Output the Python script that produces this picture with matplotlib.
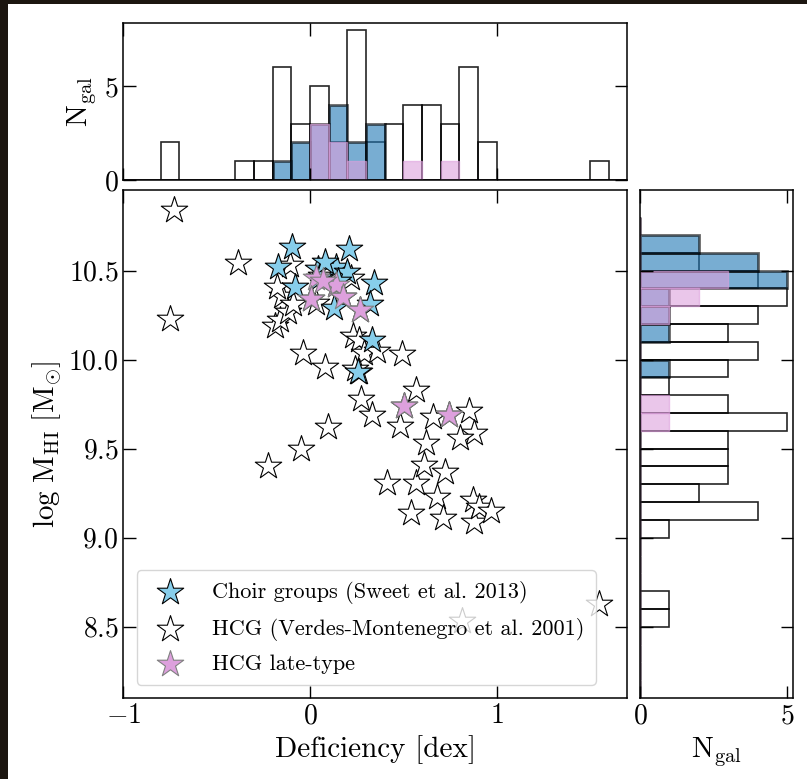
import numpy as np
import matplotlib.pyplot as plt
from matplotlib.patches import Rectangle

plt.rcParams['font.family'] = 'serif'
plt.rcParams['font.serif'] = ['cmr10']
plt.rcParams['mathtext.fontset'] = 'cm'
plt.rcParams['axes.formatter.use_mathtext'] = True

# HI deficiency [dex] and log HI mass for each galaxy sample
hcg_def = [-0.73, -0.75, -0.385,
           -0.19, -0.16, -0.12, -0.15, -0.18, -0.11,
           -0.09, -0.04,
           0.03, 0.06, 0.005,
           0.14, 0.175,
           0.23, 0.26, 0.265, 0.29, 0.22,
           0.36, 0.49,
           -0.225, -0.05, 0.08, 0.095, 0.26, 0.24, 0.27, 0.33,
           0.48, 0.41, 0.567, 0.505, 0.567, 0.54,
           0.66, 0.62, 0.61, 0.68, 0.745, 0.72, 0.71,
           0.85, 0.88, 0.805, 0.875, 0.88, 0.815,
           0.905, 0.97, 1.545]
hcg_mhi = [10.84, 10.23, 10.54,
           10.19, 10.22, 10.27, 10.36, 10.41, 10.53,
           10.31, 10.04,
           10.32, 10.47, 10.34,
           10.42, 10.35,
           10.13, 10.11, 10.28, 10.04, 10.46,
           10.05, 10.03,
           9.40, 9.496, 9.96, 9.62, 9.93, 9.95, 9.78, 9.69,
           9.63, 9.31, 9.83, 9.74, 9.31, 9.14,
           9.68, 9.534, 9.41, 9.23, 9.69, 9.37, 9.11,
           9.71, 9.59, 9.56, 9.21, 9.09, 8.53,
           9.17, 9.15, 8.63]

choir_def = [-0.095, 0.21, -0.17, 0.04, 0.14, 0.195, -0.08, 0.34,
             0.13, 0.32, 0.33, 0.255, 0.05, 0.08, 0.15]
choir_mhi = [10.63, 10.62, 10.52, 10.51, 10.52, 10.49, 10.41, 10.43,
             10.29, 10.31, 10.11, 9.93, 10.46, 10.55, 10.44]

late_def = [0.033, 0.14, 0.175, 0.005, 0.265, 0.505, 0.745, 0.07]
late_mhi = [10.46, 10.42, 10.35, 10.34, 10.28, 9.74, 9.69, 10.44]

def_bins = np.linspace(-1.0, 1.7, 28)
mhi_bins = np.linspace(8.0, 10.8, 29)

fig = plt.figure(figsize=(8.07, 7.79), dpi=100)
fig.patch.set_facecolor('#1c1610')
fig.add_artist(Rectangle((8 / 807, 0), 1, 1 - 4 / 779, transform=fig.transFigure,
                         facecolor='white', edgecolor='none', zorder=-10))

ax = fig.add_axes([0.153, 0.104, 0.6245, 0.6515])
ax_top = fig.add_axes([0.153, 0.769, 0.6245, 0.2009], sharex=ax)
ax_right = fig.add_axes([0.793, 0.104, 0.1896, 0.6515], sharey=ax)

# scatter
ax.scatter(hcg_def, hcg_mhi, marker='*', s=400, facecolor='white',
           edgecolor='k', lw=0.8, label='HCG (Verdes-Montenegro et al. 2001)', zorder=2)
ax.scatter(choir_def, choir_mhi, marker='*', s=400, facecolor='skyblue',
           edgecolor='k', lw=0.8, label='Choir groups (Sweet et al. 2013)', zorder=3)
ax.scatter(late_def, late_mhi, marker='*', s=400, facecolor='plum',
           edgecolor='gray', lw=0.8, label='HCG late-type', zorder=4)

handles, labels = ax.get_legend_handles_labels()
order = [1, 0, 2]
ax.legend([handles[i] for i in order], [labels[i] for i in order],
          loc='lower left', fontsize=16, handletextpad=0.9, labelspacing=0.6,
          borderpad=0.5, borderaxespad=0.6)

ax.set_xlim(-1, 1.7)
ax.set_ylim(8.1, 10.95)
ax.set_xticks([-1, 0, 1])
ax.set_yticks([8.5, 9.0, 9.5, 10.0, 10.5])
ax.set_xlabel('Deficiency [dex]', fontsize=21)
ax.set_ylabel(r'$\log\,\mathrm{M_{HI}}\ [\mathrm{M_{\odot}}]$', fontsize=21)

# deficiency histograms
ax_top.hist(hcg_def, bins=def_bins, facecolor='none', edgecolor='k', lw=1.2, alpha=0.85)
ax_top.hist(choir_def, bins=def_bins, color='C0', alpha=0.6, edgecolor='k', lw=2)
ax_top.hist(late_def, bins=def_bins, color='plum', alpha=0.6, edgecolor='plum', lw=1)
ax_top.set_ylim(0, 8.35)
ax_top.set_yticks([0, 5])
ax_top.set_ylabel(r'$\mathrm{N_{gal}}$', fontsize=21)

# HI mass histograms
ax_right.hist(hcg_mhi, bins=mhi_bins, orientation='horizontal', facecolor='none',
              edgecolor='k', lw=1.2, alpha=0.85)
ax_right.hist(choir_mhi, bins=mhi_bins, orientation='horizontal', color='C0',
              alpha=0.6, edgecolor='k', lw=2)
ax_right.hist(late_mhi, bins=mhi_bins, orientation='horizontal', color='plum',
              alpha=0.6, edgecolor='plum', lw=1)
ax_right.set_xlim(0, 5.2)
ax_right.set_xticks([0, 5])
ax_right.set_xlabel(r'$\mathrm{N_{gal}}$', fontsize=21)

for a in (ax, ax_top, ax_right):
    a.tick_params(direction='in', top=True, right=True, length=9, width=1,
                  labelsize=20)
    for sp in a.spines.values():
        sp.set_linewidth(1.1)
ax_top.tick_params(labelbottom=False)
ax_right.tick_params(labelleft=False)

fig.savefig('out.png', dpi=100, facecolor=fig.get_facecolor())
